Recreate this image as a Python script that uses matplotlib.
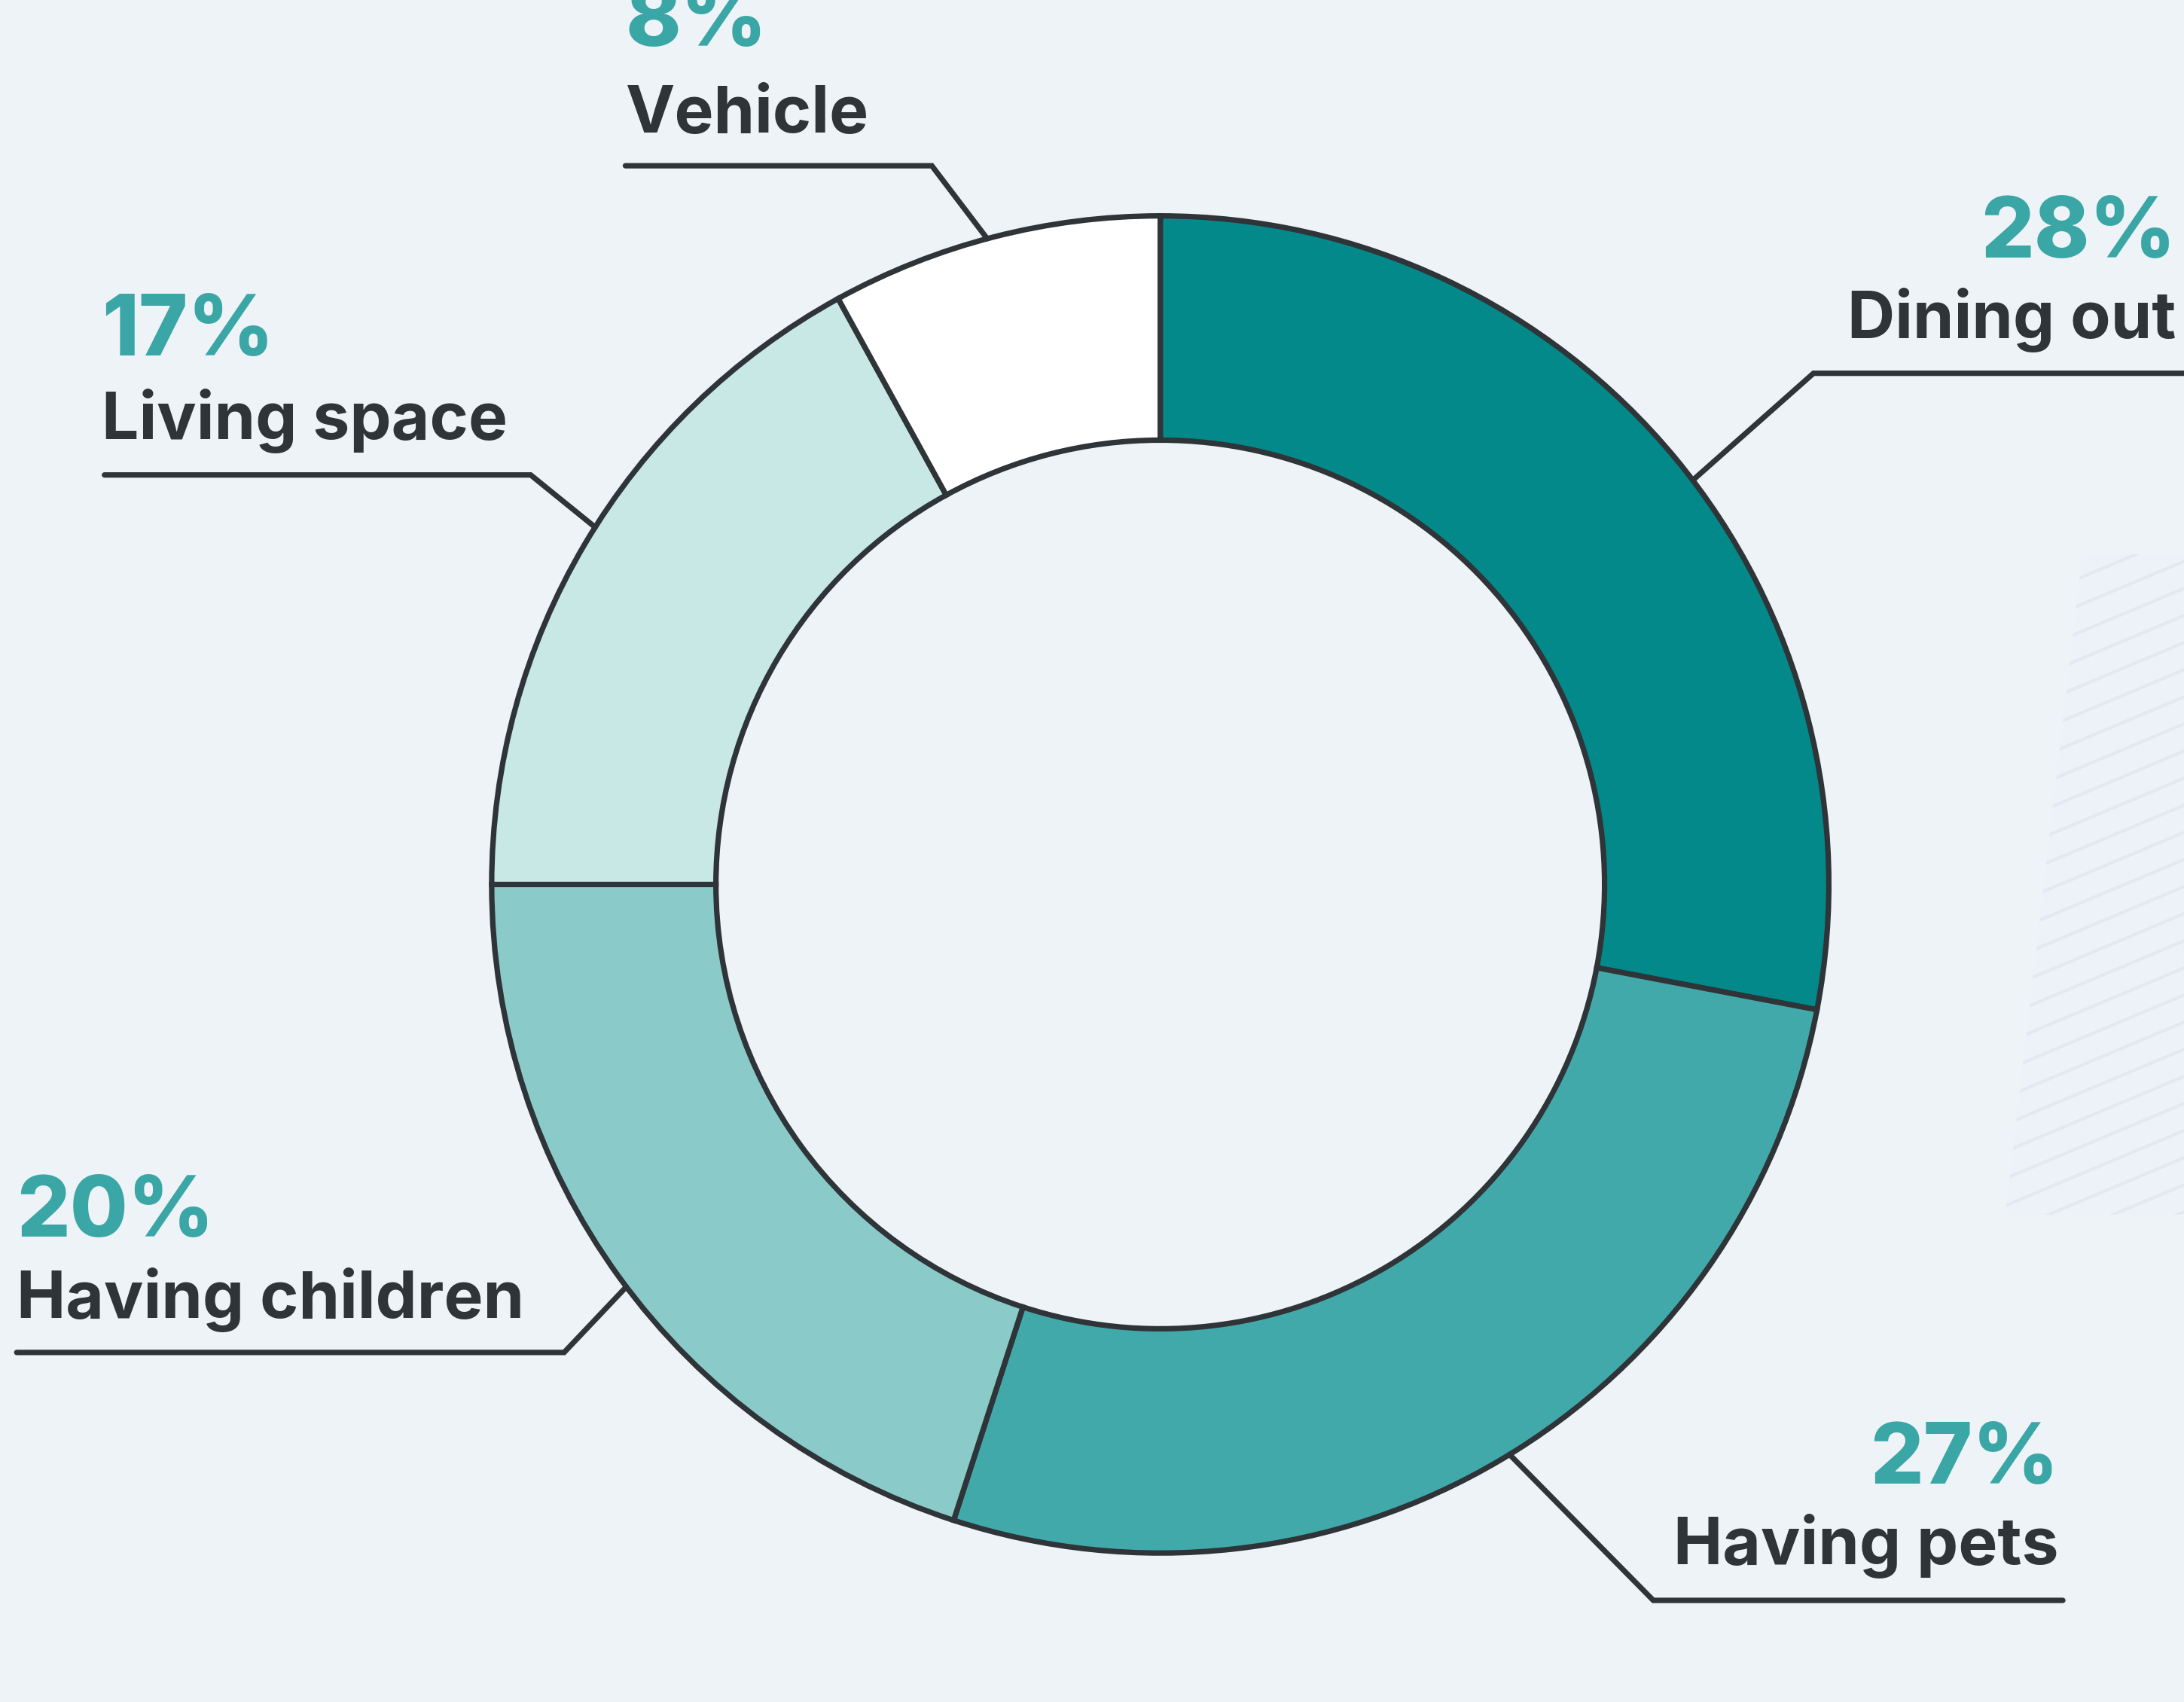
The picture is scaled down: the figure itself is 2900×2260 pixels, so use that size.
"""Donut chart: where the money goes."""

import matplotlib
matplotlib.use('Agg')
import matplotlib.pyplot as plt
import numpy as np
from matplotlib.patches import Polygon

# Data.
categories = ['Dining out', 'Having pets', 'Having children', 'Living space', 'Vehicle']
shares = [28, 27, 20, 17, 8]
colors = ['#03898A', '#42A9AB', '#8ACAC9', '#C8E8E6', '#FFFFFF']

BG = '#EEF3F7'
DARK = '#2E3437'
TEAL_TXT = '#3AA6A6'

W, H = 2900, 2260
S = W / 1568.0          # reference sketch was measured at 1568 px wide
CX, CY = 833 * S, 635 * S
R_OUT = 480 * S
R_IN = 319 * S


def px(xd, yd):
    """Sketch coordinates (y down) -> data coordinates (centre of donut at 0,0)."""
    return xd * S - CX, CY - yd * S


# Label layout, in sketch px: text x, ha, pct baseline, label baseline,
# elbow, line end x, and the angle (deg) where the leader touches the ring.
layout = {
    'Dining out':      dict(x=1562, ha='right', pct_y=185, lab_y=243, elbow=(1302, 268), end=1568, attach=37.2),
    'Having pets':     dict(x=1478, ha='right', pct_y=1065, lab_y=1123, elbow=(1187, 1149), end=1481, attach=-58.5),
    'Having children': dict(x=12, ha='left', pct_y=888, lab_y=946, elbow=(405, 971), end=12, attach=217.0),
    'Living space':    dict(x=73, ha='left', pct_y=255, lab_y=315, elbow=(381, 341), end=75, attach=147.7),
    'Vehicle':         dict(x=449, ha='left', pct_y=33, lab_y=95, elbow=(669, 119), end=449, attach=105.0),
}

plt.rcParams['font.family'] = ['Inter', 'DejaVu Sans']

fig = plt.figure(figsize=(W / 100, H / 100), dpi=100)
fig.patch.set_facecolor(BG)
ax = fig.add_axes([0, 0, 1, 1])
ax.set_facecolor(BG)

# Faint hatched decoration on the right edge.
x0, y0 = px(1495, 398)
x1, y1 = px(1440, 872)
xr, _ = px(1575, 0)
deco = Polygon([(x0, y0), (xr, y0), (xr, y1), (x1, y1)], closed=True,
               facecolor='#EDF2F9', edgecolor='none', zorder=0)
ax.add_patch(deco)
for c in np.arange(y1 - 600, y0 + 200, 36):
    xs = np.array([x1 - 50, xr + 50])
    ln, = ax.plot(xs, c + 0.42 * (xs - x1), color='#E3E9F0', lw=3,
                  solid_capstyle='round', zorder=0.5)
    ln.set_clip_path(deco)

# The donut.
wedges, _ = ax.pie(shares, colors=colors, startangle=90, counterclock=False,
                   radius=R_OUT, center=(0, 0), frame=True,
                   wedgeprops=dict(width=R_OUT - R_IN, edgecolor=DARK, linewidth=5.2))
ax.set_xlim(-CX, W - CX)
ax.set_ylim(-(H - CY), CY)
ax.axis('off')

# Leader lines and labels.
for name, share in zip(categories, shares):
    lay = layout[name]
    a = np.deg2rad(lay['attach'])
    ax_x, ax_y = R_OUT * np.cos(a), R_OUT * np.sin(a)
    ex, ey = px(*lay['elbow'])
    endx, _ = px(lay['end'], 0)
    ax.plot([ax_x, ex, endx], [ax_y, ey, ey], color=DARK, lw=5.2,
            solid_joinstyle='miter', solid_capstyle='round', zorder=3)

    tx, py = px(lay['x'], lay['pct_y'])
    _, ly = px(lay['x'], lay['lab_y'])
    ax.text(tx, py, '{}%'.format(share), ha=lay['ha'], va='baseline',
            fontsize=80, fontweight='heavy', color=TEAL_TXT)
    ax.text(tx, ly, name, ha=lay['ha'], va='baseline',
            fontsize=63, fontweight='bold', color=DARK)

fig.savefig('out.png', dpi=100, facecolor=BG)
